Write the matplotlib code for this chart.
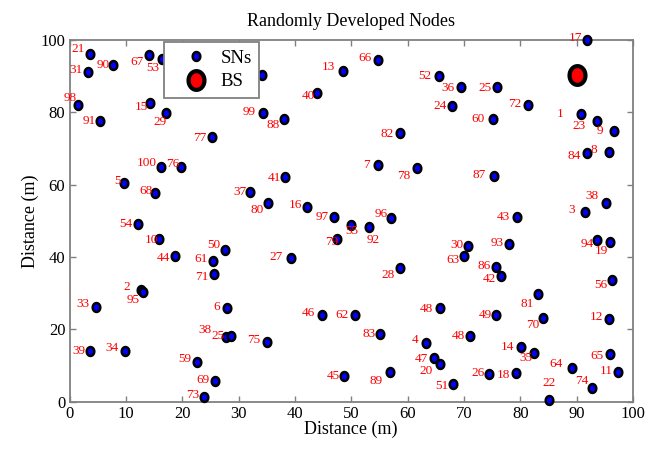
import numpy as np
import matplotlib
matplotlib.use("Agg")
import matplotlib.pyplot as plt
from matplotlib.path import Path
from matplotlib.lines import Line2D

# node labels and positions (m)
node_id = ['1', '2', '3', '4', '5', '6', '7', '8', '9', '10',
           '11', '12', '13', '14', '15', '16', '17', '18', '19', '20',
           '21', '22', '23', '24', '25', '26', '27', '28', '29', '30',
           '31', '33', '34', '35', '36', '37', '38', '38', '39', '40',
           '41', '42', '43', '44', '45', '46', '47', '48', '48', '49',
           '50', '51', '52', '53', '54', '55', '56', '59', '60', '61',
           '62', '63', '64', '65', '66', '67', '68', '69', '70', '71',
           '72', '73', '74', '75', '76', '77', '78', '79', '80', '81',
           '82', '83', '84', '86', '87', '88', '89', '90', '91', '92',
           '93', '94', '95', '96', '97', '98', '99', '100', '25', '32']
node_x = [90.8, 12.7, 91.4, 63.3, 9.7, 28.0, 54.8, 95.7, 96.6, 15.9,
          97.3, 95.8, 48.5, 80.1, 14.3, 42.2, 91.8, 79.2, 95.9, 65.8,
          3.6, 85.1, 93.6, 67.9, 75.8, 74.4, 39.3, 58.7, 17.2, 70.8,
          3.2, 4.65, 9.85, 82.5, 69.5, 32.0, 95.2, 27.7, 3.64, 44.0,
          38.3, 76.6, 79.5, 18.8, 48.8, 44.8, 64.7, 65.7, 71.0, 75.6,
          27.6, 68.1, 65.6, 16.4, 12.1, 50.0, 96.2, 22.6, 75.2, 25.5,
          50.7, 70.0, 89.1, 96.0, 54.8, 14.05, 15.1, 25.8, 84.1, 25.6,
          81.4, 23.9, 92.8, 35.1, 19.7, 25.2, 61.6, 47.4, 35.3, 83.2,
          58.7, 55.1, 91.8, 75.7, 75.4, 38.1, 56.9, 7.8, 5.5, 53.2,
          78.0, 93.6, 13.0, 57.1, 47.0, 1.45, 34.3, 16.3, 28.7, 34.1]
node_y = [79.5, 30.8, 52.5, 16.1, 60.4, 26.0, 65.4, 69.1, 74.8, 45.1,
          8.1, 22.8, 91.5, 15.0, 82.5, 53.7, 100.0, 7.8, 44.2, 10.5,
          96.1, 0.5, 77.6, 81.8, 87.0, 7.7, 39.8, 36.9, 79.9, 43.1,
          91.1, 26.3, 14.1, 13.4, 87.0, 57.9, 54.9, 18.0, 14.1, 85.4,
          62.1, 34.8, 51.2, 40.3, 7.2, 24.0, 12.2, 26.0, 18.3, 24.0,
          41.9, 4.9, 90.1, 94.7, 49.0, 48.9, 33.7, 11.1, 78.1, 39.0,
          24.0, 40.3, 9.2, 13.1, 94.5, 95.8, 57.6, 5.7, 23.2, 35.3,
          82.0, 1.2, 3.9, 16.6, 65.0, 73.3, 64.7, 45.0, 54.9, 29.7,
          74.4, 18.6, 68.7, 37.2, 62.5, 78.1, 8.1, 93.1, 77.6, 48.4,
          43.6, 44.8, 30.4, 50.9, 51.0, 82.0, 79.7, 65.0, 18.3, 90.3]

bs_x = [90.1]
bs_y = [90.3]

# where each number sits relative to its node (pixels, x right / y down)
label_off = [(-21, 0), (-14, -3), (-13, -2), (-11, -3), (-7, -2), (-11, -1), (-12, 0), (-15, -2), (-14, 0), (-8, 1),
             (-12, -1), (-13, -2), (-14, -4), (-13, 0), (-9, 4), (-12, -2), (-11, -2), (-12, 2), (-8, 9), (-14, 7),
             (-12, -5), (0, -17), (-18, 5), (-12, 0), (-12, 1), (-11, -1), (-15, -1), (-12, 7), (-6, 9), (-12, -1),
             (-12, -2), (-13, -3), (-13, -3), (-9, 5), (-13, 1), (-10, 0), (-14, -7), (-21, -7), (-11, 0), (-9, 3),
             (-11, 1), (-12, 3), (-14, 0), (-12, 2), (-11, 0), (-14, -2), (-13, 1), (-13, 1), (-11, 0), (-10, 0),
             (-11, -5), (-11, 2), (-14, 0), (-9, 9), (-12, 0), (1, 6), (-11, 5), (-12, -3), (-15, 0), (-12, -2),
             (-13, 0), (-11, 4), (-16, -4), (-14, 2), (-13, -2), (-12, 7), (-9, -2), (-12, -1), (-11, 7), (-12, 3),
             (-13, -1), (-11, -2), (-11, -7), (-14, -2), (-8, -3), (-12, 1), (-13, 8), (-5, 3), (-11, 7), (-11, 10),
             (-13, 1), (-11, 0), (-13, 3), (-12, -1), (-15, -1), (-11, 6), (-14, 9), (-10, 0), (-11, 0), (4, 13),
             (-12, -1), (-10, 4), (-10, 8), (-10, -4), (-12, 0), (-7, -7), (-14, -1), (-15, -4), (-13, 0), (-12, 0)]

plt.rcParams['font.family'] = ['Liberation Serif', 'DejaVu Serif']

# slightly tall ellipse marker
t = np.linspace(0, 2 * np.pi, 64)
ell = Path(np.column_stack([0.85 * np.cos(t), np.sin(t)]), closed=True)

sn_style = dict(linestyle='none', marker=ell, markersize=6.4,
                markerfacecolor='#0000ff', markeredgecolor='black', markeredgewidth=1.8)
bs_style = dict(linestyle='none', marker=ell, markersize=13.5,
                markerfacecolor='#ff0000', markeredgecolor='black', markeredgewidth=3.0)

fig = plt.figure(figsize=(6.53, 4.66), dpi=100)
ax = fig.add_axes([69.5 / 653, 1 - 401.7 / 466, 563.5 / 653, 361.7 / 466])

ax.plot(node_x, node_y, clip_on=False, zorder=3, **sn_style)
ax.plot(bs_x, bs_y, clip_on=False, zorder=3, **bs_style)

for i, name in enumerate(node_id):
    dx, dy = label_off[i]
    ax.annotate(name, (node_x[i], node_y[i]), xytext=(dx, -dy),
                textcoords='offset pixels', ha='center', va='center',
                color='#ff0000', fontsize=9.5, zorder=4, annotation_clip=False)

ax.set_xlim(0, 100)
ax.set_ylim(0, 100)
ax.set_xticks(np.arange(0, 101, 10))
ax.set_yticks(np.arange(0, 101, 20))
ax.tick_params(direction='in', top=True, right=True, length=4, width=1,
               color='#808080', labelsize=12, pad=3)
for s in ax.spines.values():
    s.set_color('#808080')
    s.set_linewidth(1.3)

ax.set_title('Randomly Developed Nodes', fontsize=13, pad=10)
ax.set_xlabel('Distance (m)', fontsize=13, labelpad=-1)
ax.set_ylabel('Distance (m)', fontsize=13, labelpad=1)

h_sn = Line2D([], [], **sn_style)
h_bs = Line2D([], [], **bs_style)
leg = ax.legend([h_sn, h_bs], ['SNs', 'BS'], loc='upper left',
                bbox_to_anchor=((164 - 69.5) / 563.5, (401.7 - 42) / 361.7),
                borderaxespad=0, fontsize=13.5, fancybox=False, framealpha=1,
                edgecolor='#808080', handlelength=2.6, handletextpad=0.0,
                borderpad=0.4, labelspacing=0.35, numpoints=1)
leg.get_frame().set_linewidth(1.3)
leg.set_zorder(5)

fig.savefig('out.png', dpi=100)
